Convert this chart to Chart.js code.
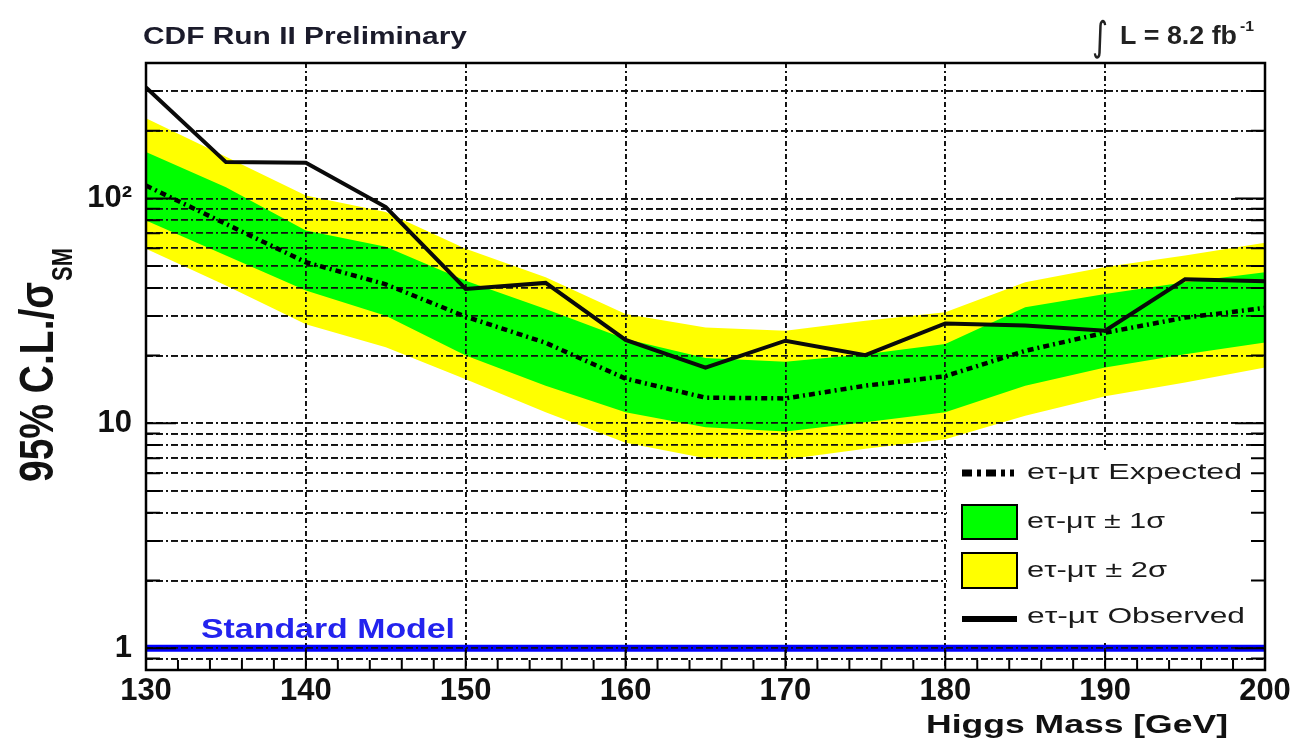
<!DOCTYPE html>
<html>
<head>
<meta charset="utf-8">
<script src="https://cdn.jsdelivr.net/npm/chart.js@4.4.1/dist/chart.umd.min.js"></script>
<style>
  html, body { margin: 0; padding: 0; background: #fff; }
  #wrap { width: 1308px; height: 745px; }
</style>
</head>
<body>
<div id="wrap"><canvas id="limitChart" width="1308" height="745"></canvas></div>
<script>
// -----------------------------------------
// Daten
// -----------------------------------------
const mass      = [130, 135, 140, 145, 150, 155, 160, 165, 170, 175, 180, 185, 190, 195, 200];
const observed  = [311, 145, 144, 91.5, 39.6, 42.1, 23.5, 17.7, 23.3, 20.1, 27.8, 27.2, 25.8, 43.7, 42.8];
const expected  = [114, 77, 52, 41.5, 29.8, 22.8, 15.8, 13.0, 12.9, 14.7, 16.2, 21.0, 25.3, 29.5, 32.6];
const band2Up   = [227, 153, 103, 87, 59.7, 44.6, 30.6, 26.7, 25.8, 28.6, 31.2, 42.4, 49.5, 55.7, 63.5];
const band1Up   = [161, 112, 72, 61, 43, 32.2, 23.7, 19.5, 18.8, 20.3, 22.5, 32.8, 37.6, 42.4, 47];
const band1Down = [79.8, 55.7, 38.9, 30.1, 20.0, 14.7, 11.2, 9.6, 9.2, 10.1, 11.2, 14.7, 17.7, 20.3, 22.9];
const band2Down = [59.7, 41, 27.6, 21.8, 15.7, 11.2, 8.2, 7.0, 6.9, 7.7, 8.5, 10.8, 13.2, 15.2, 17.7];

const smLevel = 1;

const yGridValues  = [0.9, 1, 2, 3, 4, 5, 6, 7, 8, 9, 10, 20, 30, 40, 50, 60, 70, 80, 90, 100, 200, 300];
const yLabelValues = [1, 10, 100];
const yLabelTexts  = ["1", "10", "10\u00B2"];
const xTickStep    = 10;
const xMinorStep   = 2;

const legendLabels = ["e\u03C4-\u03BC\u03C4 Expected", "e\u03C4-\u03BC\u03C4 \u00B1 1\u03C3",
                      "e\u03C4-\u03BC\u03C4 \u00B1 2\u03C3", "e\u03C4-\u03BC\u03C4 Observed"];

const FONT = "'Liberation Sans', Arial, sans-serif";

function pts(arr) {
    return mass.map((m, i) => ({ x: m, y: arr[i] }));
}

// Text auf eine Zielbreite strecken (das Original ist horizontal gestreckt)
function fitText(ctx, text, x, baseline, font, width, color, align) {
    ctx.save();
    ctx.font = font;
    ctx.fillStyle = color;
    ctx.textAlign = "left";
    ctx.textBaseline = "alphabetic";
    const w = ctx.measureText(text).width;
    const left = align === "right" ? x - width : x;
    ctx.translate(left, baseline);
    ctx.scale(width / w, 1);
    ctx.fillText(text, 0, 0);
    ctx.restore();
}

// -----------------------------------------
// Plugin: Gitter über den Bändern, Rahmen, Texte, Legende
// -----------------------------------------
const decorPlugin = {
    id: "decor",
    afterDatasetDraw(chart, args) {
        if (args.index === 3) {
            chart.scales.x.drawGrid(chart.chartArea);
            chart.scales.y.drawGrid(chart.chartArea);
        }
    },
    afterDraw(chart) {
        const ctx = chart.ctx;
        const a = chart.chartArea;
        const xs = chart.scales.x, ys = chart.scales.y;

        // Legende
        ctx.save();
        ctx.fillStyle = "#fff";
        ctx.fillRect(947, 452, a.right - 947, 190);

        ctx.strokeStyle = "#000";
        ctx.lineWidth = 7;
        ctx.setLineDash([10, 5, 4, 5]);
        ctx.beginPath(); ctx.moveTo(962, 473); ctx.lineTo(1014, 473); ctx.stroke();
        ctx.setLineDash([]);

        ctx.lineWidth = 2;
        ctx.fillStyle = "#00ff00";
        ctx.fillRect(962, 505, 55, 34); ctx.strokeRect(962, 505, 55, 34);
        ctx.fillStyle = "#ffff00";
        ctx.fillRect(962, 553, 55, 35); ctx.strokeRect(962, 553, 55, 35);

        ctx.lineWidth = 6;
        ctx.beginPath(); ctx.moveTo(962, 619); ctx.lineTo(1017, 619); ctx.stroke();
        ctx.restore();

        const lf = "22px " + FONT;
        fitText(ctx, legendLabels[0], 1027, 479, lf, 215, "#1a1a1a");
        fitText(ctx, legendLabels[1], 1027, 528, lf, 138, "#1a1a1a");
        fitText(ctx, legendLabels[2], 1027, 577, lf, 140, "#1a1a1a");
        fitText(ctx, legendLabels[3], 1027, 623, lf, 218, "#1a1a1a");

        // Tick-Markierungen nach innen
        ctx.save();
        ctx.strokeStyle = "#000";
        ctx.lineWidth = 2;
        ctx.beginPath();
        for (let v = xs.min; v <= xs.max; v += xMinorStep) {
            const px = xs.getPixelForValue(v);
            const len = (v % xTickStep === 0) ? 20 : 10;
            ctx.moveTo(px, a.bottom); ctx.lineTo(px, a.bottom - len);
        }
        yGridValues.forEach(v => {
            const py = ys.getPixelForValue(v);
            const len = yLabelValues.includes(v) ? 30 : 14;
            ctx.moveTo(a.left, py); ctx.lineTo(a.left + len, py);
            ctx.moveTo(a.right, py); ctx.lineTo(a.right - len, py);
        });
        ctx.stroke();

        // Rahmen
        ctx.lineWidth = 2.5;
        ctx.strokeRect(a.left, a.top, a.right - a.left, a.bottom - a.top);
        ctx.restore();

        // Texte
        fitText(ctx, "CDF Run II Preliminary", 143, 44, "bold 23px " + FONT, 324, "#1b1b2b");
        fitText(ctx, "\u222B", 1092, 50, "40px 'DejaVu Sans'", 16, "#222");
        fitText(ctx, "L = 8.2 fb", 1120, 44, "bold 26px " + FONT, 117, "#222");
        fitText(ctx, "-1", 1240, 31, "bold 15px " + FONT, 14, "#222");
        fitText(ctx, "Standard Model", 201, 638, "bold 28px " + FONT, 254, "#2323ee");
        fitText(ctx, "Higgs Mass [GeV]", 1228, 733, "bold 26px " + FONT, 302, "#111", "right");

        // Y-Achsentitel (gedreht, mit Index)
        ctx.save();
        ctx.font = "bold 39px " + FONT;
        ctx.fillStyle = "#111";
        const main = "95% C.L./\u03C3";
        let w = ctx.measureText(main).width;
        ctx.translate(53, 482);
        ctx.rotate(-Math.PI / 2);
        ctx.scale(200 / w, 1.25);
        ctx.fillText(main, 0, 0);
        ctx.restore();

        ctx.save();
        ctx.font = "bold 24px " + FONT;
        ctx.fillStyle = "#111";
        w = ctx.measureText("SM").width;
        ctx.translate(72, 281);
        ctx.rotate(-Math.PI / 2);
        ctx.scale(33 / w, 1.25);
        ctx.fillText("SM", 0, 0);
        ctx.restore();
    }
};

// -----------------------------------------
// Diagramm
// -----------------------------------------
function initChart() {
    const ctx = document.getElementById("limitChart").getContext("2d");

    new Chart(ctx, {
        type: "line",
        data: {
            datasets: [
                { data: pts(band2Up), borderColor: "rgba(0,0,0,0)", backgroundColor: "#ffff00",
                  fill: "+1", pointRadius: 0, order: 11 },
                { data: pts(band2Down), borderColor: "rgba(0,0,0,0)", fill: false, pointRadius: 0, order: 10 },
                { data: pts(band1Up), borderColor: "rgba(0,0,0,0)", backgroundColor: "#00ff00",
                  fill: "+1", pointRadius: 0, order: 9 },
                { data: pts(band1Down), borderColor: "rgba(0,0,0,0)", fill: false, pointRadius: 0, order: 8 },
                { data: pts(expected), borderColor: "#000", borderWidth: 4.5, borderDash: [6, 4, 2, 4],
                  fill: false, pointRadius: 0, order: 2 },
                { data: pts(observed), borderColor: "#0a0a0a", borderWidth: 4, fill: false,
                  pointRadius: 0, order: 1 },
                { data: [{ x: mass[0], y: smLevel }, { x: mass[mass.length - 1], y: smLevel }],
                  borderColor: "#0000ff", borderWidth: 7, fill: false, pointRadius: 0, order: 12 }
            ]
        },
        options: {
            responsive: false,
            devicePixelRatio: 1,
            animation: false,
            events: [],
            layout: { padding: { left: 0, right: 43, top: 63, bottom: 0 } },
            plugins: { legend: { display: false }, tooltip: { enabled: false } },
            elements: { line: { tension: 0 } },
            scales: {
                x: {
                    type: "linear",
                    min: 130,
                    max: 200,
                    afterFit(scale) { scale.height = 75; },
                    ticks: {
                        stepSize: xTickStep,
                        padding: 3,
                        color: "#111",
                        font: { family: FONT, size: 31, weight: "bold" }
                    },
                    grid: { color: "#111", lineWidth: 1.8, drawTicks: false },
                    border: { display: false, dash: [5, 3, 2, 3] }
                },
                y: {
                    type: "logarithmic",
                    min: 0.8,
                    max: 400,
                    afterFit(scale) { scale.width = 146; },
                    afterBuildTicks(scale) {
                        scale.ticks = yGridValues.map(v => ({ value: v }));
                    },
                    ticks: {
                        autoSkip: false,
                        padding: 14,
                        color: "#111",
                        font: { family: FONT, size: 31, weight: "bold" },
                        callback(value) {
                            const i = yLabelValues.indexOf(value);
                            return i >= 0 ? yLabelTexts[i] : "";
                        }
                    },
                    grid: { color: "#111", lineWidth: 1.8, drawTicks: false },
                    border: { display: false, dash: [7, 3, 7, 3, 2, 3] }
                }
            }
        },
        plugins: [decorPlugin]
    });
}

window.addEventListener("DOMContentLoaded", initChart);
</script>
</body>
</html>
